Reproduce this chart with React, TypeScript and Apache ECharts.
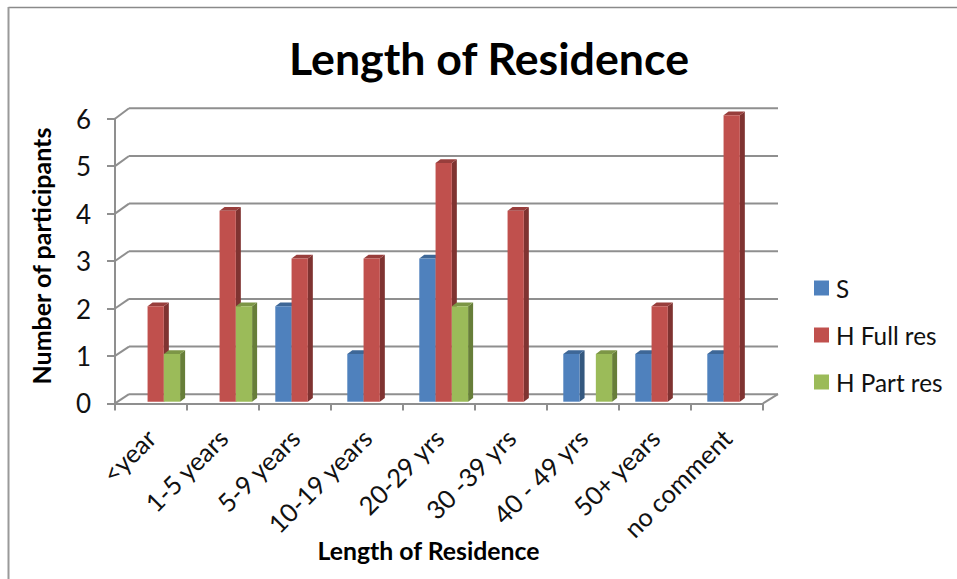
import React, { useEffect, useRef } from "react";
import * as echarts from "echarts";

const categories = ["<year", "1-5 years", "5-9 years", "10-19 years", "20-29 yrs", "30 -39 yrs", "40 - 49 yrs", "50+ years", "no comment"];
const seriesS = [0, 0, 2, 1, 3, 0, 1, 1, 1];
const seriesFull = [2, 4, 3, 3, 5, 4, 0, 2, 6];
const seriesPart = [1, 2, 0, 0, 2, 0, 1, 0, 0];
const yTicks = [0, 1, 2, 3, 4, 5, 6];

const FONT = "Lato, 'Open Sans', sans-serif";
const INK = "#111111";
const GRID = "#8f8f8f";

// Extrusion of the pseudo-3D box
const WALL_DX = 14;
const WALL_DY = 9.2;
const BAR_SHIFT_X = 4.7;
const BAR_SHIFT_Y = -1.7;
const BAR_PERSPECTIVE = 0.3;
const BAR_SIDE = 5;
const BAR_CAP = 3.7;
const BAR_BAND = 0.226;

// Back wall gridlines, plus the slanted stubs joining them to the value axis
const renderWall = (_params: any, api: any) => {
  const v = api.value(1);
  const sys = _params.coordSys;
  const p = api.coord([0, v]);
  const x0 = sys.x;
  const x1 = sys.x + sys.width;
  const y = p[1];
  const by = y - WALL_DY - v * 0.2;
  const style = { stroke: GRID, lineWidth: 2, fill: "none" };
  return {
    type: "group",
    children: [
      { type: "line", shape: { x1: x0, y1: y, x2: x0 + WALL_DX, y2: by }, style },
      { type: "line", shape: { x1: x0 + WALL_DX, y1: by, x2: x1 + WALL_DX + 1, y2: by }, style },
      ...(v === 0 ? [{ type: "line", shape: { x1, y1: y, x2: x1 + WALL_DX + 1, y2: by }, style }] : []),
    ],
  };
};

// One extruded column: side face, top cap, then the front face
const makeBarRenderer = (slot: number, front: string, side: string, cap: string) => (_params: any, api: any) => {
  const v = api.value(1);
  if (!v) return null;
  const top = api.coord([api.value(0), v]);
  const base = api.coord([api.value(0), 0]);
  const band = api.size([1, 0])[0];
  const w = band * BAR_BAND;
  const l = top[0] + BAR_SHIFT_X + (slot - 1.5) * w;
  const r = l + w;
  const t = top[1] + BAR_SHIFT_Y - v * BAR_PERSPECTIVE;
  const b = base[1] + BAR_SHIFT_Y;
  return {
    type: "group",
    children: [
      { type: "polygon", shape: { points: [[r, t], [r + BAR_SIDE, t - BAR_CAP], [r + BAR_SIDE, b - BAR_CAP], [r, b]] }, style: { fill: side } },
      { type: "polygon", shape: { points: [[l, t], [l + BAR_SIDE, t - BAR_CAP], [r + BAR_SIDE, t - BAR_CAP], [r, t]] }, style: { fill: cap } },
      { type: "rect", shape: { x: l, y: t, width: w, height: b - t }, style: { fill: front } },
    ],
  };
};

const toPoints = (values: number[]) => values.map((v, i) => [i, v]);

export default function App() {
  const ref = useRef<HTMLDivElement>(null);

  useEffect(() => {
    const chart = echarts.init(ref.current!, undefined, { renderer: "svg" });
    chart.setOption({
      animation: false,
      backgroundColor: "#ffffff",
      title: {
        text: "Length of Residence",
        left: 484,
        top: 30,
        textAlign: "center",
        textStyle: { fontFamily: FONT, fontSize: 44.7, fontWeight: "bold", color: "#000000" },
      },
      grid: { left: 115, right: 194, top: 118.7, height: 284.7 },
      legend: {
        left: 809,
        top: 271,
        orient: "vertical",
        itemWidth: 15,
        itemHeight: 15,
        itemGap: 23,
        icon: "rect",
        data: ["S", "H Full res", "H Part res"],
        textStyle: { fontFamily: FONT, fontSize: 24.3, color: INK, padding: [0, 0, 0, 2] },
      },
      xAxis: {
        type: "category",
        data: categories,
        name: "Length of Residence",
        nameLocation: "middle",
        nameGap: 135,
        nameMoveOverlap: false,
        nameTextStyle: { fontFamily: FONT, fontSize: 24.8, fontWeight: "bold", color: "#000000", padding: [0, 21, 0, 0] },
        axisLine: { lineStyle: { color: GRID, width: 2 } },
        axisTick: { show: true, alignWithLabel: false, length: 7, lineStyle: { color: GRID, width: 2 } },
        axisLabel: { interval: 0, rotate: 45, margin: 30, fontFamily: FONT, fontSize: 25.5, color: INK },
      },
      yAxis: {
        type: "value",
        min: 0,
        max: 6,
        interval: 1,
        name: "Number of participants",
        nameLocation: "middle",
        nameGap: 62,
        nameRotate: 90,
        nameTextStyle: { fontFamily: FONT, fontSize: 25, fontWeight: "bold", color: "#000000", padding: [0, 0, 0, 10] },
        axisLine: { show: true, lineStyle: { color: GRID, width: 2 } },
        axisTick: { show: true, length: 8, lineStyle: { color: GRID, width: 2 } },
        axisLabel: { margin: 24, fontFamily: FONT, fontSize: 26, color: INK },
        splitLine: { show: false },
      },
      graphic: [
        { type: "line", shape: { x1: 8.5, y1: 7.5, x2: 957, y2: 7.5 }, style: { stroke: "#8a8a8a", lineWidth: 1.5 } },
        { type: "line", shape: { x1: 8.5, y1: 7, x2: 8.5, y2: 579 }, style: { stroke: "#9a9a9a", lineWidth: 2 } },
      ],
      series: [
        { type: "custom", name: "wall", silent: true, z: 1, data: yTicks.map((v) => [0, v]), renderItem: renderWall, encode: { x: 0, y: 1 } },
        { type: "custom", name: "S", z: 2, itemStyle: { color: "#4F81BD" }, data: toPoints(seriesS), renderItem: makeBarRenderer(0, "#4F81BD", "#34587F", "#3E6797"), encode: { x: 0, y: 1 } },
        { type: "custom", name: "H Full res", z: 2, itemStyle: { color: "#C0504D" }, data: toPoints(seriesFull), renderItem: makeBarRenderer(1, "#C0504D", "#7F3331", "#983E3C"), encode: { x: 0, y: 1 } },
        { type: "custom", name: "H Part res", z: 2, itemStyle: { color: "#9BBB59" }, data: toPoints(seriesPart), renderItem: makeBarRenderer(2, "#9BBB59", "#677E39", "#7C9646"), encode: { x: 0, y: 1 } },
      ],
    });
    return () => chart.dispose();
  }, []);

  return <div ref={ref} style={{ position: "fixed", left: 0, top: 0, width: 957, height: 579 }} />;
}
